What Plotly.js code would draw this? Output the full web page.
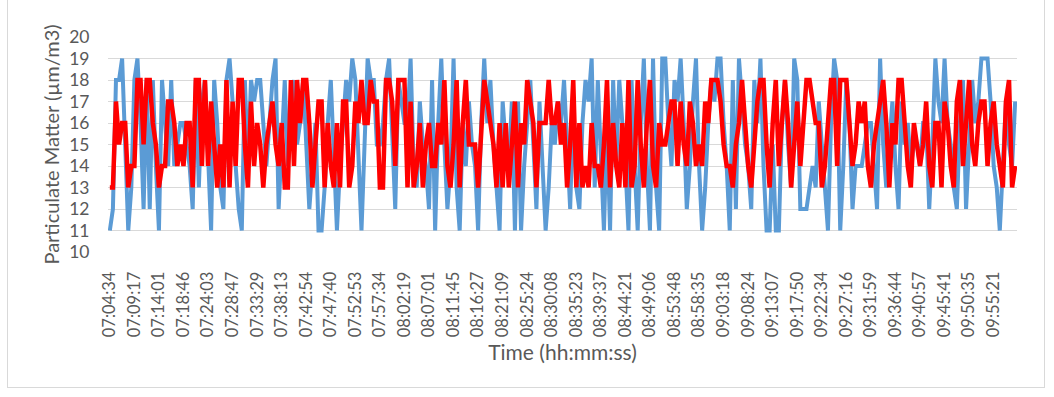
<!DOCTYPE html>
<html>
<head>
<meta charset="utf-8">
<script src="https://cdn.plot.ly/plotly-3.0.1.min.js"></script>
<style>
html,body{margin:0;padding:0;background:#fff;}
#wrap{position:relative;width:1054px;height:397px;overflow:hidden;}
#frame{position:absolute;left:7px;top:-2px;width:1038px;height:390px;border:1px solid #d9d9d9;box-sizing:border-box;pointer-events:none;}
#chart{position:absolute;left:0;top:0;width:1054px;height:397px;}
</style>
</head>
<body>
<div id="wrap"><div id="chart"></div><div id="frame"></div></div>
<script>
// Tick labels shown on the category axis (every 8th sample)
const timeLabels = ["07:04:34","07:09:17","07:14:01","07:18:46","07:24:03","07:28:47","07:33:29","07:38:13","07:42:54","07:47:40","07:52:53","07:57:34","08:02:19","08:07:01","08:11:45","08:16:27","08:21:09","08:25:24","08:30:08","08:35:23","08:39:37","08:44:21","08:49:06","08:53:48","08:58:35","09:03:18","09:08:24","09:13:07","09:17:50","09:22:34","09:27:16","09:31:59","09:36:44","09:40:57","09:45:41","09:50:35","09:55:21"];
const labelStep = 8;

// Blue series
const blueValues = [
11,12,18,18,19,15,11,13,18,19,16,12,18,12,18,14,11,18,16,14,18,14,15,16,16,15,14,12,18,13,17,18,14,11,18,16,13,12,18,19,17,14,12,11,18,14,18,17,
18,18,16,14,16,18,19,12,15,18,14,16,18,15,16,18,15,12,14,16,11,11,13,16,18,14,11,14,16,18,17,19,18,14,11,15,19,18,18,15,15,16,18,19,15,12,18,17,16,16,
19,14,13,17,15,14,12,18,11,16,19,15,12,14,19,13,11,16,14,17,15,14,11,16,19,16,18,15,13,11,17,15,14,17,11,17,11,14,16,18,15,12,17,14,11,13,16,15,17,16,
18,15,12,17,13,12,16,18,17,19,13,18,14,11,16,11,18,14,18,16,14,11,18,14,11,16,19,14,11,19,13,11,19,19,16,14,18,17,19,16,12,14,17,19,14,11,13,16,18,17,
19,19,16,14,11,18,12,19,17,15,14,12,18,16,19,14,11,11,15,11,11,16,18,15,13,19,18,12,12,12,13,14,13,17,15,13,11,16,19,18,11,14,18,16,12,14,14,14,15,16,
16,14,12,19,15,13,15,17,14,12,17,15,16,14,15,15,14,16,16,12,15,19,17,16,19,16,15,13,12,16,18,12,15,18,16,17,19,19,19,17,14,13,11,14,17,15,14,17
];

// Red series
const redValues = [
13,13,17,15,16,16,13,14,14,18,18,15,18,18,16,15,13,14,14,17,17,16,14,15,14,16,16,13,18,18,14,18,14,17,15,13,15,13,18,13,17,14,18,18,15,13,17,14,
16,15,13,15,16,17,15,14,16,13,13,18,14,18,16,18,18,16,13,15,17,17,13,16,14,13,16,13,17,17,13,14,17,16,18,16,16,18,17,17,13,13,18,18,17,14,18,18,18,13,
17,13,14,16,13,15,16,14,14,16,15,18,14,13,15,18,13,16,18,15,15,15,13,16,18,17,16,15,13,16,13,16,13,15,17,13,16,15,18,17,16,13,16,16,16,18,16,16,17,15,
16,13,15,18,13,16,13,14,13,16,14,14,13,15,18,13,16,14,13,16,13,18,13,14,18,15,13,16,18,14,13,16,15,15,16,17,17,14,17,15,14,17,16,14,15,14,17,16,18,18,
18,17,15,14,14,13,15,16,18,16,14,13,15,17,18,18,15,13,16,18,14,16,18,16,13,15,17,14,16,18,18,17,16,16,13,14,16,18,18,14,18,18,18,16,14,15,17,16,17,14,
13,15,16,17,18,16,13,16,15,18,18,16,14,13,16,15,14,15,17,14,13,16,16,13,17,16,14,13,17,18,14,16,18,15,14,16,17,17,14,16,17,15,14,13,17,18,13,14
];

const n = Math.max(blueValues.length, redValues.length);
const idx = Array.from({length:n}, (_, i) => i);
const tickPos = timeLabels.map((_, k) => k * labelStep);

const font = "Lato, 'Open Sans', 'Liberation Sans', sans-serif";
const grey = "#595959";

const traces = [
  {x: idx.slice(0, blueValues.length), y: blueValues, type: "scatter", mode: "lines",
   line: {color: "#5b9bd5", width: 4, shape: "linear"}, hoverinfo: "skip", name: "blue"},
  {x: idx.slice(0, redValues.length), y: redValues, type: "scatter", mode: "lines",
   line: {color: "#ff0000", width: 4.5, shape: "linear"}, hoverinfo: "skip", name: "red"}
];

const layout = {
  width: 1054, height: 397,
  margin: {l: 108, r: 37, t: 37, b: 145, pad: 0},
  paper_bgcolor: "rgba(0,0,0,0)", plot_bgcolor: "#fff",
  showlegend: false,
  font: {family: font, color: grey},
  xaxis: {
    range: [-0.6, n - 1 + 0.6],
    tickmode: "array", tickvals: tickPos, ticktext: timeLabels,
    tickangle: -90, tickfont: {size: 16.5, color: grey, family: font},
    showgrid: false, zeroline: false, showline: false,
    ticks: "outside", ticklen: 12, tickcolor: "rgba(0,0,0,0)",
    title: {text: "Time (hh:mm:ss)", font: {size: 21, color: grey, family: font}, standoff: 9}
  },
  yaxis: {
    range: [10, 20], tickmode: "linear", tick0: 10, dtick: 1,
    tickfont: {size: 17.5, color: grey, family: font},
    showgrid: true, gridcolor: "#d9d9d9", gridwidth: 1,
    zeroline: false, showline: false,
    ticks: "outside", ticklen: 14, tickcolor: "rgba(0,0,0,0)",
    title: {text: "Particulate Matter (µm/m3)", font: {size: 20, color: grey, family: font}, standoff: 4}
  }
};

Plotly.newPlot("chart", traces, layout, {staticPlot: true, displayModeBar: false});
</script>
</body>
</html>
